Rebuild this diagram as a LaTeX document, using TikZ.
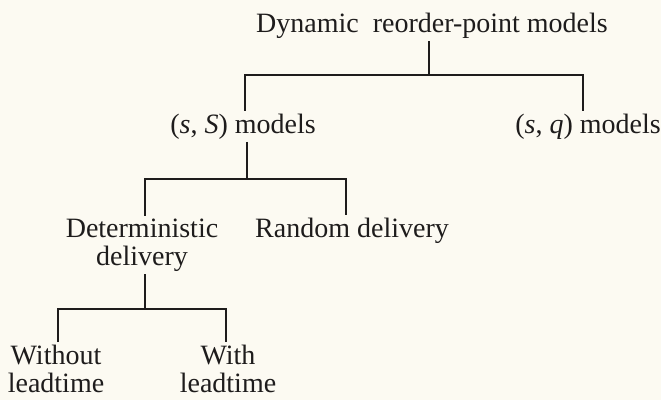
\documentclass[tikz,border=0pt]{standalone}
\usepackage{fontspec}
\setmainfont{Liberation Serif}
\definecolor{paper}{RGB}{252,250,242}
\definecolor{ink}{RGB}{30,28,28}
\begin{document}
\begin{tikzpicture}[x=1pt, y=-1pt, line width=1.6pt, draw=ink,
  lbl/.style={inner sep=0pt, outer sep=3pt, anchor=base, align=center,
              text=ink, font=\fontsize{28}{27.5}\selectfont}]
\fill[paper] (0,0) rectangle (661,400);
\useasboundingbox (0,0) rectangle (661,400);

% labels (multi-line labels are placed by the baseline of their last line)
\node[lbl] (root) at (432,32)  {Dynamic\ \ reorder-point models};
\node[lbl] (ss)   at (243,133) {(\textit{s}, \textit{S}) models};
\node[lbl] (sq)   at (588,133) {(\textit{s}, \textit{q}) models};
\node[lbl] (det)  at (142,265) {Deterministic\\delivery};
\node[lbl] (rand) at (352,237) {Random delivery};
\node[lbl] (wo)   at (56,392)  {Without\\leadtime};
\node[lbl] (wi)   at (228,392) {With\\leadtime};

% junction points of the brackets
\coordinate (j1)  at (429,75);
\coordinate (b1l) at (245,75);
\coordinate (b1r) at (583,75);
\coordinate (j2)  at (247,179);
\coordinate (b2l) at (145,179);
\coordinate (b2r) at (346,179);
\coordinate (j3)  at (145,309);
\coordinate (b3l) at (58,309);
\coordinate (b3r) at (226,309);

% brackets
\draw (root.south -| j1) -- (j1);
\draw (ss.north -| b1l) -- (b1l) -- (b1r) -- (sq.north -| b1r);
\draw (ss.south -| j2) -- (j2);
\draw (det.north -| b2l) -- (b2l) -- (b2r) -- (rand.north -| b2r);
\draw (det.south -| j3) -- (j3);
\draw (wo.north -| b3l) -- (b3l) -- (b3r) -- (wi.north -| b3r);
\end{tikzpicture}
\end{document}
